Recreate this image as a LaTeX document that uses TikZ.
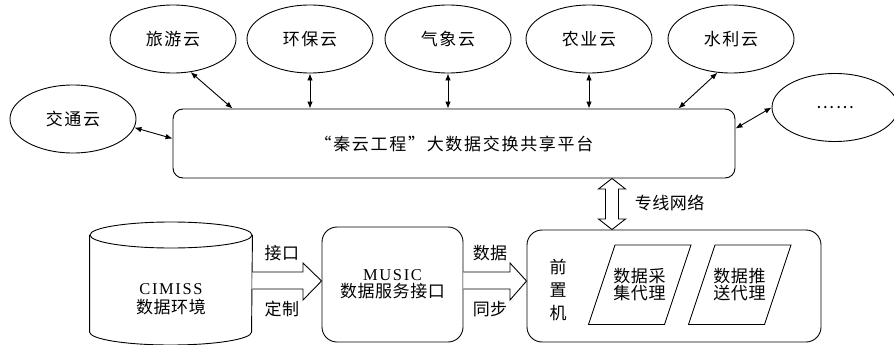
\documentclass[tikz,border=0pt]{standalone}
\usepackage{fontspec}
\setmainfont[LetterSpace=3]{Noto Sans CJK SC}
\newfontfamily\latinfont[LetterSpace=10]{Liberation Serif}
\usepackage{tikz}
\usetikzlibrary{arrows.meta}
\usetikzlibrary{shapes.geometric}
\usetikzlibrary{calc}

\newcommand{\topfont}{\fontsize{17}{18}\selectfont\addfontfeature{LetterSpace=10}}
\newcommand{\lowfont}{\fontsize{17}{17}\selectfont}

\begin{document}
\begin{tikzpicture}[x=1pt,y=-1pt,>={Latex[length=7pt,width=5.5pt]},line width=0.9pt,
	cloud/.style={ellipse,draw,minimum width=126pt,minimum height=68pt,inner sep=0pt,font=\topfont},
	box/.style={draw,rounded corners=15pt,inner sep=0pt},
	agent/.style={align=center,inner sep=0pt,font=\lowfont},
	label/.style={font=\lowfont}]
			\useasboundingbox (0,0) rectangle (894,345);
			% clouds
			\foreach \name/\x/\txt in {lvyou/173/旅游云,huanbao/310/环保云,qixiang/448/气象云,nongye/589/农业云,shuili/731/水利云} {
				\node[cloud] (\name) at (\x,39) {\txt};
			}
			\node[cloud] (jiaotong) at (73,119) {交通云};
			\node[cloud] (more) at (835,107.5) {……};
			\node[box,rounded corners=10pt,minimum width=562pt,minimum height=69pt,font=\topfont] (platform) at (454,143.5) {“秦云工程”大数据交换共享平台};
			\draw[<->] (lvyou.-62) -- ($(platform.north west)+(60,0)$);
			\foreach \name in {huanbao,qixiang,nongye} {
				\draw[<->] (\name.south) -- (\name.south |- platform.north);
			}
			\draw[<->] (shuili.-112) -- ($(platform.north east)+(-57,0)$);
			\draw[<->] (jiaotong.-8) -- ($(platform.north west)+(0,30)$);
			\draw[<->] (more.west) -- ($(platform.north east)+(0,20)$);
			% lower part
			\node[minimum width=162pt,minimum height=123pt,inner sep=0pt] (cimiss) at (171,283.5) {};
			\draw (cimiss.west |- 0,235) -- (cimiss.west |- 0,332)
				arc[start angle=180,end angle=360,x radius=81pt,y radius=13pt] -- (cimiss.east |- 0,235);
			\draw (171,235) ellipse [x radius=81pt,y radius=13pt];
			\node[align=center,font=\lowfont] (cimisstxt) at (171,299) {{\latinfont\fontsize{16.5}{17}\selectfont CIMISS}\\[2pt]数据环境};
			\node[box,minimum width=141pt,minimum height=115pt,align=center,font=\lowfont] (music) at (392.5,284.5) {{\latinfont\fontsize{16.5}{17}\selectfont MUSIC}\\数据服务接口};
			\node[box,minimum width=294pt,minimum height=112pt] (front) at (674,286) {};
			\node[align=center,font=\lowfont] (qzj) at (558,290) {前\\[6pt]置\\[6pt]机};
			\node[agent] (caiji) at (639.5,285) {数据采\\集代理};
			\node[agent] (tuisong) at (739.5,285) {数据推\\送代理};
			\foreach \name in {caiji,tuisong} {
				\draw ($(\name)+(-24.5,-40)$) -- ($(\name)+(51.5,-40)$) -- ($(\name)+(25,39.5)$) -- ($(\name)+(-51,39.5)$) -- cycle;
			}
			% fat arrows
			\draw[fill=white] (cimiss.east |- 0,272) -- (303,272) -- (303,263) -- (music.west |- 0,281)
				-- (303,300) -- (303,289) -- (cimiss.east |- 0,289);
			\draw[fill=white] (music.east |- 0,272) -- (510,272) -- (510,263) -- (front.west |- 0,281)
				-- (510,300) -- (510,289) -- (music.east |- 0,289);
			\draw[fill=white] (612,0 |- platform.south) -- (625.5,189) -- (618.5,189) -- (618.5,219) -- (625.5,219)
				-- (612,0 |- front.north) -- (598.5,219) -- (605.5,219) -- (605.5,189) -- (598.5,189) -- cycle;
			\node[label] (jiekou) at (282,253) {接口};
			\node[label] (dingzhi) at (282,309) {定制};
			\node[label] (shuju) at (490,253) {数据};
			\node[label] (tongbu) at (490,309) {同步};
			\node[label,anchor=west] (zhuanxian) at (631,203) {专线网络};
\end{tikzpicture}
\end{document}
